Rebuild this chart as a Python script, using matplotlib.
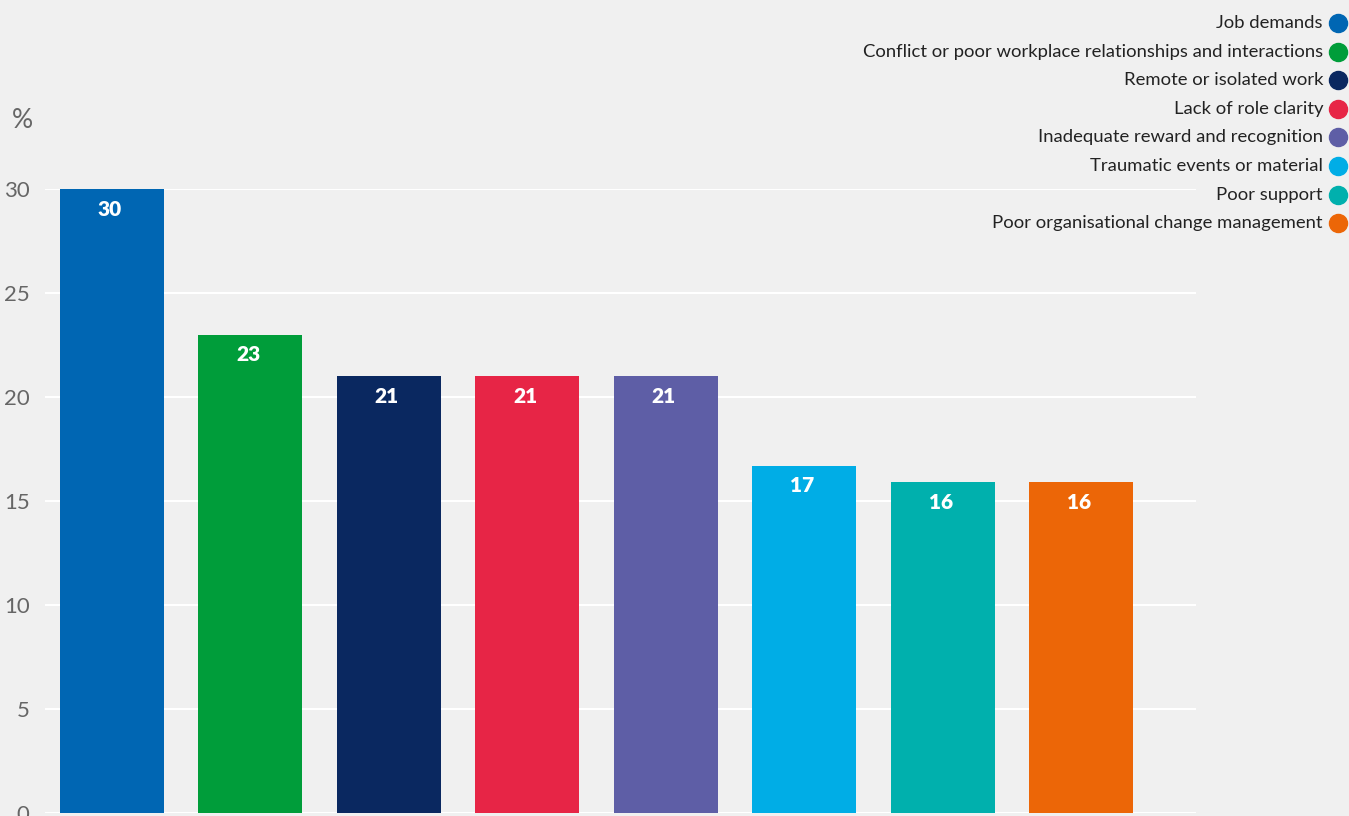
import matplotlib
matplotlib.use("Agg")
from matplotlib import pyplot as plt
from matplotlib.lines import Line2D

categories = ["Job demands",
              "Conflict or poor workplace relationships and interactions",
              "Remote or isolated work",
              "Lack of role clarity",
              "Inadequate reward and recognition",
              "Traumatic events or material",
              "Poor support",
              "Poor organisational change management"]
values = [30.0, 23.0, 21.0, 21.0, 21.0, 16.7, 15.9, 15.9]
labels = ["30", "23", "21", "21", "21", "17", "16", "16"]
colors = ["#0066b3", "#009d3a", "#0a2860", "#e72546",
          "#5e5ea6", "#00ade6", "#00b0ad", "#ec6607"]
yticks = [0, 5, 10, 15, 20, 25, 30]

plt.rcParams['font.family'] = ['Lato', 'DejaVu Sans']

W, H = 1349, 816
fig = plt.figure(figsize=(W / 100, H / 100), dpi=100, facecolor="#f0f0f0")
ax = fig.add_axes([45 / W, (H - 813) / H, (1196 - 45) / W, (813 - 189) / H])
ax.set_facecolor("#f0f0f0")

x = list(range(len(values)))
ax.bar(x, values, width=0.751, color=colors, zorder=3)

for xi, v, lab in zip(x, values, labels):
    ax.annotate(lab, (xi, v), xytext=(-2, -20), textcoords="offset pixels",
                ha="center", va="center", color="white", fontsize=15,
                fontweight="heavy", zorder=4)

ax.set_xlim(-0.484, 7.83)
ax.set_ylim(0, 30)
ax.set_yticks(yticks)
ax.set_xticks([])
ax.yaxis.grid(True, color="white", linewidth=1.5, zorder=0)
ax.tick_params(axis="y", length=0, pad=11, labelsize=16, labelcolor="#666666")
for s in ax.spines.values():
    s.set_visible(False)

fig.text(22 / W, 1 - 120 / H, "%", ha="center", va="center",
         fontsize=19, color="#666666")

# legend on the right
for i, (name, c) in enumerate(zip(categories, colors)):
    yy = 1 - (23 + i * 28.6) / H
    fig.text(1323 / W, yy, name, ha="right", va="center",
             fontsize=13.3, color="#222222")
    fig.add_artist(Line2D([1338 / W], [yy], marker="o", markersize=13,
                          color=c, linestyle="none",
                          transform=fig.transFigure))

fig.savefig("out.png", dpi=100, facecolor=fig.get_facecolor())
